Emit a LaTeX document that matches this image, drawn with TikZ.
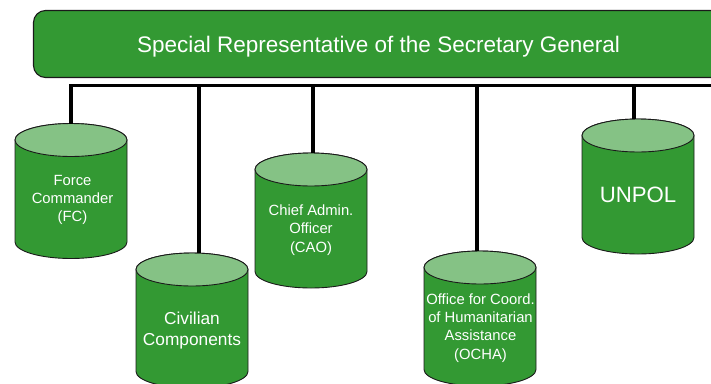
\documentclass[tikz,border=0pt]{standalone}
\usepackage{fontspec}
\setmainfont{Liberation Sans}
\definecolor{cyldark}{HTML}{339933}
\definecolor{cyllight}{HTML}{85C285}
\definecolor{edge}{HTML}{1A1A1A}
\tikzset{
  cylbody/.style={fill=cyldark, draw=edge, line width=0.9pt},
  cyltop/.style={fill=cyllight, draw=edge, line width=0.9pt},
  conn/.style={draw=black, line width=3.2pt},
  titlebox/.style={fill=cyldark, draw=edge, line width=1.1pt, rounded corners=12pt},
  smalltext/.style={text=white, align=center, inner sep=0pt, font=\fontsize{14.8pt}{18.3pt}\selectfont},
  midtext/.style={text=white, align=center, inner sep=0pt, font=\fontsize{17.3pt}{21pt}\selectfont},
  bigtext/.style={text=white, inner sep=0pt, font=\fontsize{22.2pt}{26pt}\selectfont},
  titletext/.style={text=white, inner sep=0pt, font=\fontsize{22.5pt}{26pt}\selectfont},
  pics/cyl/.style={code={
    \filldraw[cylbody] (-56,16.5) -- (-56,118.5)
      arc[start angle=180, end angle=360, x radius=56pt, y radius=16.5pt]
      -- (56,16.5)
      arc[start angle=0, end angle=180, x radius=56pt, y radius=16.5pt] -- cycle;
    \filldraw[cyltop] (0,16.5) ellipse[x radius=56pt, y radius=16.5pt];
    \coordinate (-top) at (0,0);
  }}
}
\begin{document}
\begin{tikzpicture}[x=1pt, y=-1pt]
\useasboundingbox (0,0) rectangle (711,383);
\clip (0,0) rectangle (711,383);
% title box
\draw[titlebox] (33.5,10.5) rectangle (740,77.5);
\node[titletext, anchor=base] (srsg) at (378.5,52) {Special Representative of the Secretary General};
% bus
\coordinate (busR) at (720,85.5);
\coordinate (b2) at (199,85.5);
\coordinate (b3) at (313,85.5);
\coordinate (b4) at (477,85.5);
\coordinate (b5) at (634,85.5);
% cylinders
\pic (fc) at (71,123.5) {cyl};
\pic (civ) at (192,253) {cyl};
\pic (cao) at (311,153) {cyl};
\pic (ocha) at (480,251) {cyl};
\pic (unpol) at (638,119) {cyl};
% connectors
\draw[conn] (fc-top) |- (busR);
\draw[conn] (b2) -- (b2 |- civ-top);
\draw[conn] (b3) -- (b3 |- cao-top);
\draw[conn] (b4) -- (b4 |- ocha-top);
\draw[conn] (b5) -- (b5 |- unpol-top);
% labels
\node[smalltext] (fclabel) at (72.5,200) {Force\\Commander\\(FC)};
\node[midtext] (civlabel) at (192,331) {Civilian\\Components};
\node[smalltext] (caolabel) at (311,230) {Chief Admin.\\Officer\\(CAO)};
\node[smalltext] (ochalabel) at (480.5,328) {Office for Coord.\\of Humanitarian\\Assistance\\(OCHA)};
\node[bigtext] (unpollabel) at (638,195) {UNPOL};
\end{tikzpicture}
\end{document}
